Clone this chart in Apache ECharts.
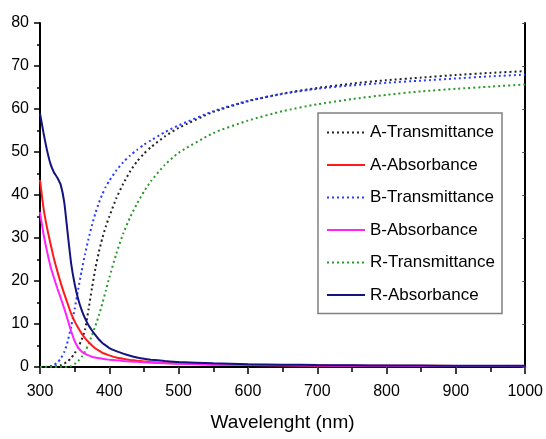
<!DOCTYPE html>
<html>
<head>
    <meta charset="utf-8">
    <script src="https://cdn.jsdelivr.net/npm/echarts@6/dist/echarts.min.js"></script>
</head>
<body style="margin:0;">
<div id="myChart" style="width: 546px; height: 439px;"></div>

<script type="text/javascript">
    var chart = echarts.init(document.getElementById('myChart'));

    // wavelength (nm)
    var wavelength = [300, 305, 310, 315, 320, 325, 330, 335, 340, 345, 350, 355, 360, 365, 370, 375, 380, 385, 390, 395,
        400, 410, 420, 430, 440, 450, 460, 480, 500, 550, 600, 650, 700, 750, 800, 850, 900, 950, 1000];

    var aTrans = [0, 0, 0, 0.05, 0.1, 0.2, 0.4, 0.8, 1.3, 2.1, 3.2, 4.6, 6.3, 8.7, 13.4, 18.4, 23, 26.8, 30, 32.7,
        35, 39.2, 42.6, 45.5, 47.8, 49.6, 51.1, 53.6, 55.6, 59.3, 61.8, 63.6, 64.9, 65.9, 66.7, 67.3, 67.9, 68.4, 68.8];
    var aAbs = [43.5, 37, 32.5, 28.8, 25.3, 22.3, 19.5, 17, 14.7, 12.4, 10.6, 9.1, 7.8, 6.7, 5.8, 5, 4.3, 3.8, 3.3, 3,
        2.7, 2.2, 1.9, 1.65, 1.45, 1.3, 1.15, 0.95, 0.8, 0.6, 0.5, 0.42, 0.37, 0.33, 0.3, 0.28, 0.26, 0.25, 0.25];
    var bTrans = [0, 0, 0.05, 0.2, 0.5, 1, 2, 3.5, 6, 9.5, 13.5, 18, 22.3, 26.3, 29.8, 33, 35.8, 38.2, 40.2, 41.9,
        43.3, 45.7, 47.6, 49.2, 50.5, 51.7, 52.7, 54.6, 56.2, 59.5, 61.9, 63.5, 64.7, 65.5, 66.1, 66.6, 67.1, 67.6, 68];
    var bAbs = [36, 31, 27, 23.5, 20.8, 18.3, 16, 13.6, 11, 8.3, 6, 4.5, 3.6, 3.05, 2.7, 2.4, 2.2, 2.05, 1.9, 1.8,
        1.7, 1.55, 1.42, 1.3, 1.2, 1.1, 1, 0.85, 0.75, 0.55, 0.45, 0.38, 0.33, 0.3, 0.27, 0.25, 0.23, 0.22, 0.2];
    var rTrans = [0, 0, 0, 0, 0, 0, 0, 0, 0, 0.2, 0.7, 1.4, 2.3, 3.6, 5.3, 7.4, 9.6, 12, 14.8, 17.8,
        20.8, 26.3, 31, 34.8, 38, 40.8, 43.2, 47, 49.8, 54.4, 57.3, 59.5, 61.1, 62.3, 63.3, 64.1, 64.7, 65.2, 65.7];
    var rAbs = [59, 54.5, 50.5, 47.3, 45.3, 44, 42.3, 38.3, 31, 24, 19.3, 15.8, 13.3, 11.3, 9.7, 8.5, 7.4, 6.4, 5.6, 5,
        4.4, 3.7, 3.1, 2.6, 2.2, 1.9, 1.7, 1.4, 1.15, 0.85, 0.65, 0.55, 0.45, 0.4, 0.35, 0.33, 0.3, 0.3, 0.3];

    var xTicks = [300, 400, 500, 600, 700, 800, 900, 1000];
    var yTicks = [0, 10, 20, 30, 40, 50, 60, 70, 80];

    function pairs(values) {
        return wavelength.map(function (w, i) {
            return [w, values[i]];
        });
    }

    function makeSeries(name, values, color, dotted) {
        return {
            name: name,
            type: 'line',
            data: pairs(values),
            symbol: 'none',
            smooth: 0.2,
            lineStyle: {
                color: color,
                width: 2,
                type: dotted ? [2, 3] : 'solid',
            },
            itemStyle: {color: color},
            z: dotted ? 2 : 3,
        };
    }

    var font = 'Liberation Sans, Arial, sans-serif';
    var black = '#000';

    var option = {
        animation: false,
        textStyle: {fontFamily: font},
        grid: {
            left: 40,
            right: 16,
            top: 23,
            bottom: 72,
        },
        legend: {
            orient: 'vertical',
            left: 318,
            top: 113,
            padding: [11, 7, 10, 8],
            itemGap: 15.5,
            itemWidth: 38,
            itemHeight: 14,
            borderColor: '#808080',
            borderWidth: 1.5,
            itemStyle: {opacity: 0},
            textStyle: {
                fontSize: 17,
                color: black,
                fontFamily: font,
            },
            data: ['A-Transmittance', 'A-Absorbance', 'B-Transmittance', 'B-Absorbance', 'R-Transmittance', 'R-Absorbance'],
        },
        xAxis: [{
            type: 'value',
            min: xTicks[0],
            max: xTicks[xTicks.length - 1],
            interval: 100,
            name: 'Wavelenght (nm)',
            nameLocation: 'middle',
            nameGap: 46,
            nameTextStyle: {fontSize: 19, color: black, fontFamily: font},
            axisLine: {lineStyle: {color: black, width: 2}},
            axisTick: {length: 7, lineStyle: {color: black, width: 1.5}},
            minorTick: {show: true, splitNumber: 2, length: 5, lineStyle: {color: black, width: 1.5}},
            axisLabel: {
                fontSize: 16, color: black, margin: 17, fontFamily: font,
                formatter: function (v) { return String(v); },
            },
            splitLine: {show: false},
        }, {
            type: 'value',
            position: 'top',
            min: xTicks[0],
            max: xTicks[xTicks.length - 1],
            interval: 100,
            axisLine: {lineStyle: {color: black, width: 2}},
            axisTick: {inside: true, length: 3, lineStyle: {color: '#444', width: 1}},
            axisLabel: {show: false},
            splitLine: {show: false},
        }],
        yAxis: [{
            type: 'value',
            min: yTicks[0],
            max: yTicks[yTicks.length - 1],
            interval: 10,
            axisLine: {show: true, lineStyle: {color: black, width: 2}},
            axisTick: {show: true, length: 6, lineStyle: {color: black, width: 1.5}},
            minorTick: {show: true, splitNumber: 2, length: 3, lineStyle: {color: black, width: 1.5}},
            axisLabel: {fontSize: 16, color: black, margin: 11, fontFamily: font},
            splitLine: {show: false},
        }, {
            type: 'value',
            position: 'right',
            min: yTicks[0],
            max: yTicks[yTicks.length - 1],
            interval: 10,
            axisLine: {show: true, lineStyle: {color: black, width: 2}},
            axisTick: {show: true, inside: true, length: 3, lineStyle: {color: '#444', width: 1}},
            axisLabel: {show: false},
            splitLine: {show: false},
        }],
        series: [
            makeSeries('A-Transmittance', aTrans, '#222222', true),
            makeSeries('A-Absorbance', aAbs, '#ff1a1a', false),
            makeSeries('B-Transmittance', bTrans, '#2b3cff', true),
            makeSeries('B-Absorbance', bAbs, '#ff22ff', false),
            makeSeries('R-Transmittance', rTrans, '#2a9a2a', true),
            makeSeries('R-Absorbance', rAbs, '#141480', false),
        ],
    };

    chart.setOption(option, true);
</script>
</body>
</html>
